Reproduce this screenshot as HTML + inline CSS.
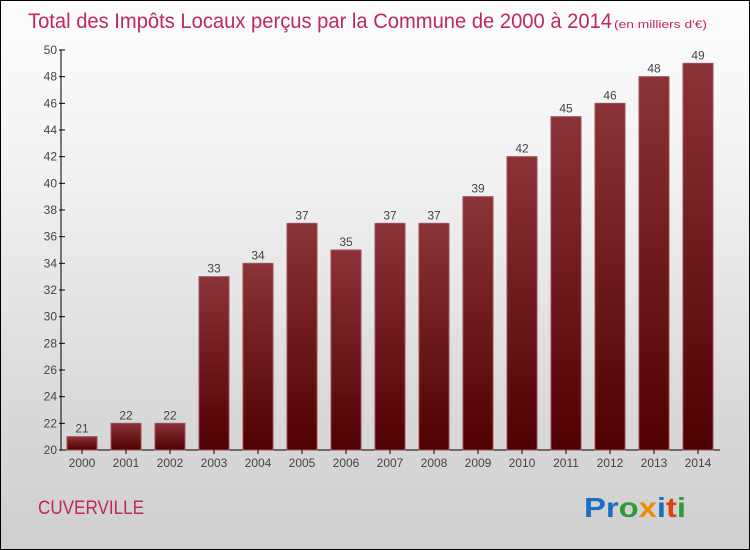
<!DOCTYPE html>
<html><head><meta charset="utf-8"><style>
body{margin:0}
#wrap{width:748px;height:548px;border:1px solid #000;background:linear-gradient(#fdfdfd,#f2f2f2 30%,#d9d9d9 75%,#cfcfcf);position:relative;overflow:hidden;font-family:"Liberation Sans",sans-serif}
</style></head><body>
<div id="wrap">
<svg id="c" width="748" height="548">
<defs><linearGradient id="g" x1="0" y1="0" x2="0" y2="1"><stop offset="0" stop-color="#8b3337"/><stop offset="1" stop-color="#4f0000"/></linearGradient></defs>
<text x="27" y="27" font-size="21" fill="#c0285a" textLength="584" lengthAdjust="spacingAndGlyphs">Total des Impôts Locaux perçus par la Commune de 2000 à 2014</text>
<text x="613" y="27" font-size="11" fill="#c0285a" textLength="93" lengthAdjust="spacingAndGlyphs">(en milliers d'€)</text>
<text x="37" y="513" font-size="19" fill="#c0285a" textLength="106" lengthAdjust="spacingAndGlyphs">CUVERVILLE</text>
<text x="583" y="516" font-size="28" font-weight="bold" textLength="102" lengthAdjust="spacingAndGlyphs"><tspan fill="#1a6fc4">Pr</tspan><tspan fill="#2e9a3a">o</tspan><tspan fill="#f08a00">x</tspan><tspan fill="#1a6fc4">i</tspan><tspan fill="#e04010">t</tspan><tspan fill="#2e9a3a">i</tspan></text>
</svg>
</div>
<script>
const years=["2000","2001","2002","2003","2004","2005","2006","2007","2008","2009","2010","2011","2012","2013","2014"];
const values=[21,22,22,33,34,37,35,37,37,39,42,45,46,48,49];
const yTicks=[20,22,24,26,28,30,32,34,36,38,40,42,44,46,48,50];
const svg=document.getElementById('c');
const NS='http://www.w3.org/2000/svg';
const y0=449,yMin=20,yMax=50,yTop=49;
const yS=v=>y0-(v-yMin)*(y0-yTop)/(yMax-yMin);
const xS=i=>81+i*44;
function mk(t,a,txt){const e=document.createElementNS(NS,t);for(const k in a)e.setAttribute(k,a[k]);if(txt!=null)e.textContent=txt;svg.appendChild(e);return e;}
let ax=mk('line',{x1:60,y1:yTop,x2:60,y2:y0,stroke:'#000'});


let bx=mk('line',{x1:60,y1:y0,x2:719,y2:y0,stroke:'#000'});


yTicks.forEach(v=>{
 let t=mk('line',{x1:58,x2:64,y1:yS(v),y2:yS(v),stroke:'#000'});
 
 
 let l=mk('text',{x:56,y:yS(v)+4,'font-size':12,fill:'#444','text-anchor':'end'},v);
 
 
});
years.forEach((yr,i)=>{
 const x=xS(i),v=values[i];
 let r=mk('rect',{x:x-15,y:yS(v),width:30,height:y0-yS(v),fill:'url(#g)',stroke:'#a05055','stroke-width':1});
 
 
 let vl=mk('text',{x:x,y:yS(v)-4,'font-size':12,fill:'#444','text-anchor':'middle'},v);
 
 
 let tk=mk('line',{x1:x,x2:x,y1:y0,y2:y0+4,stroke:'#000'});
 
 
 let xl=mk('text',{x:x,y:466,'font-size':12,fill:'#444','text-anchor':'middle'},yr);
 
 
});
</script>
</body></html>
